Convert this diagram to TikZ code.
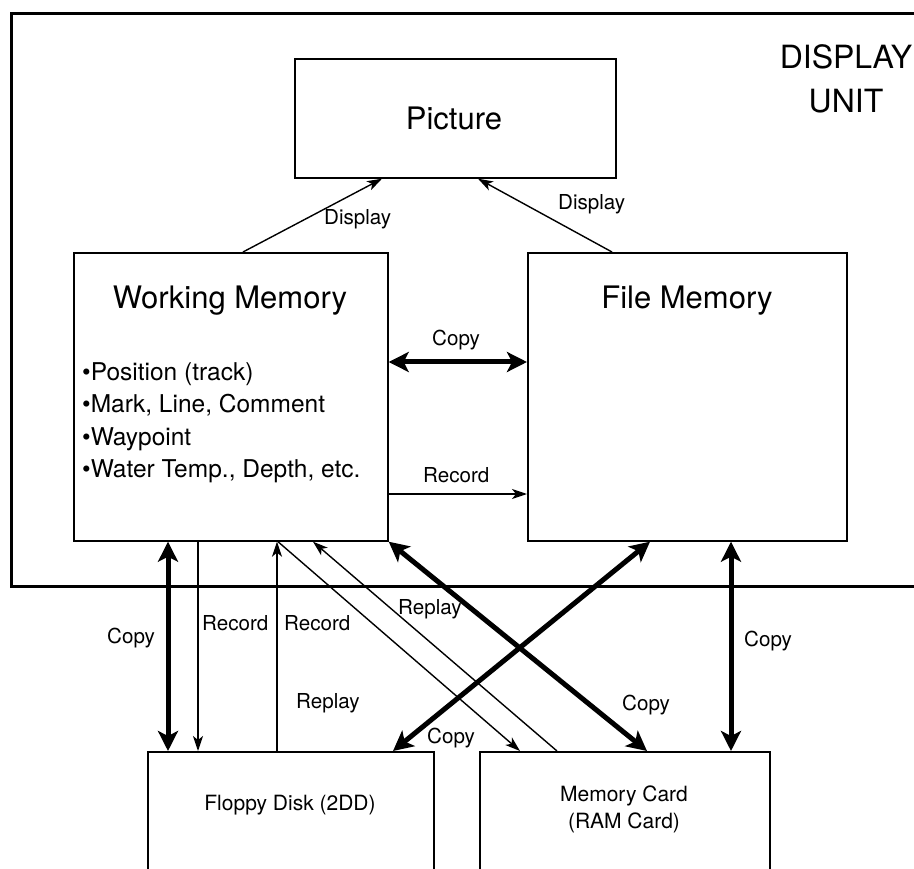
\documentclass[tikz,border=0pt]{standalone}
\usepackage{fontspec}
\setmainfont{TeX Gyre Heros}
\usetikzlibrary{arrows.meta}
\begin{document}
\begin{tikzpicture}[x=1pt,y=-1pt,
  box/.style={draw,line width=1.7pt,inner sep=0pt,anchor=north west},
  thinarrow/.style={line width=1.4pt,-{Stealth[length=15pt,width=10pt,inset=4pt]}},
  thickarrow/.style={line width=5pt,{Stealth[length=20pt,width=20pt,inset=5pt]}-{Stealth[length=20pt,width=20pt,inset=5pt]}},
  lbl/.style={font=\fontsize{20.6}{24}\selectfont,inner sep=0pt,anchor=base west},
  ttl/.style={font=\fontsize{31}{36}\selectfont,inner sep=0pt,anchor=base},
  item/.style={font=\fontsize{24.5}{28}\selectfont,inner sep=0pt,anchor=base west}]
\useasboundingbox (0,0) rectangle (914,869);
% outer display unit frame (right side runs off the page)
\node[draw,line width=3pt,inner sep=0pt,anchor=north west,minimum width=940pt,minimum height=573pt] (unit) at (10,12) {};
\node[font=\fontsize{32}{44}\selectfont,align=center,inner sep=0pt,anchor=north] (unitlbl) at (846,44) {DISPLAY\\UNIT};
% boxes
\node[box,minimum width=321pt,minimum height=119pt] (pic) at (294,58) {};
\node[ttl] (pict) at (454,130) {Picture};
\node[box,minimum width=314pt,minimum height=288pt] (wm) at (73,252) {};
\node[ttl] (wmt) at (230,309) {Working Memory};
\node[item] (i1) at (82,381) {•Position (track)};
\node[item] (i2) at (82,413) {•Mark, Line, Comment};
\node[item] (i3) at (82,445) {•Waypoint};
\node[item] (i4) at (82,477) {•Water Temp., Depth, etc.};
\node[box,minimum width=319pt,minimum height=288pt] (fm) at (527,252) {};
\node[ttl] (fmt) at (687,309) {File Memory};
\node[box,minimum width=286pt,minimum height=140pt] (fd) at (147,751) {};
\node[font=\fontsize{21}{26}\selectfont,inner sep=0pt] (fdt) at (290,805) {Floppy Disk (2DD)};
\node[box,minimum width=290pt,minimum height=140pt] (mc) at (479,751) {};
\node[font=\fontsize{21}{27}\selectfont,align=center,inner sep=0pt] (mct) at (624,809) {Memory Card\\(RAM Card)};
% x / y helper coordinates
\coordinate (e1) at (243,0); \coordinate (e2) at (382,0);
\coordinate (e3) at (612,0); \coordinate (e4) at (478,0);
\coordinate (h1) at (0,362); \coordinate (h2) at (0,494);
\coordinate (c1) at (168,0); \coordinate (c2) at (198,0);
\coordinate (c3) at (277,0); \coordinate (c4) at (731,0);
\coordinate (d1) at (278,0); \coordinate (d2) at (520,0);
\coordinate (d3) at (557,0); \coordinate (d4) at (313,0);
\coordinate (d5) at (647,0); \coordinate (d6) at (650,0);
\coordinate (d7) at (393,0);
% connectors
\draw[thinarrow] (wm.north -| e1) -- (pic.south -| e2);
\draw[thinarrow] (fm.north -| e3) -- (pic.south -| e4);
\draw[thickarrow] (wm.east |- h1) -- (fm.west |- h1);
\draw[thinarrow] (wm.east |- h2) -- (fm.west |- h2);
\draw[thickarrow] (wm.south -| c1) -- (fd.north -| c1);
\draw[thinarrow] (wm.south -| c2) -- (fd.north -| c2);
\draw[thinarrow] (fd.north -| c3) -- (wm.south -| c3);
\draw[thinarrow] (wm.south -| d1) -- (mc.north -| d2);
\draw[thinarrow] (mc.north -| d3) -- (wm.south -| d4);
\draw[thickarrow] (wm.south east) -- (mc.north -| d5);
\draw[thickarrow] (fm.south -| d6) -- (fd.north -| d7);
\draw[thickarrow] (fm.south -| c4) -- (mc.north -| c4);
% labels
\node[lbl] (l1) at (324,225) {Display};
\node[lbl] (l2) at (558,210) {Display};
\node[lbl] (l3) at (432,345) {Copy};
\node[lbl] (l4) at (423,482) {Record};
\node[lbl] (l5) at (107,643) {Copy};
\node[lbl] (l6) at (202,630) {Record};
\node[lbl] (l7) at (284,630) {Record};
\node[lbl] (l8) at (296,708) {Replay};
\node[lbl] (l9) at (398,614) {Replay};
\node[lbl] (l10) at (427,743) {Copy};
\node[lbl] (l11) at (622,710) {Copy};
\node[lbl] (l12) at (744,646) {Copy};
\end{tikzpicture}
\end{document}
